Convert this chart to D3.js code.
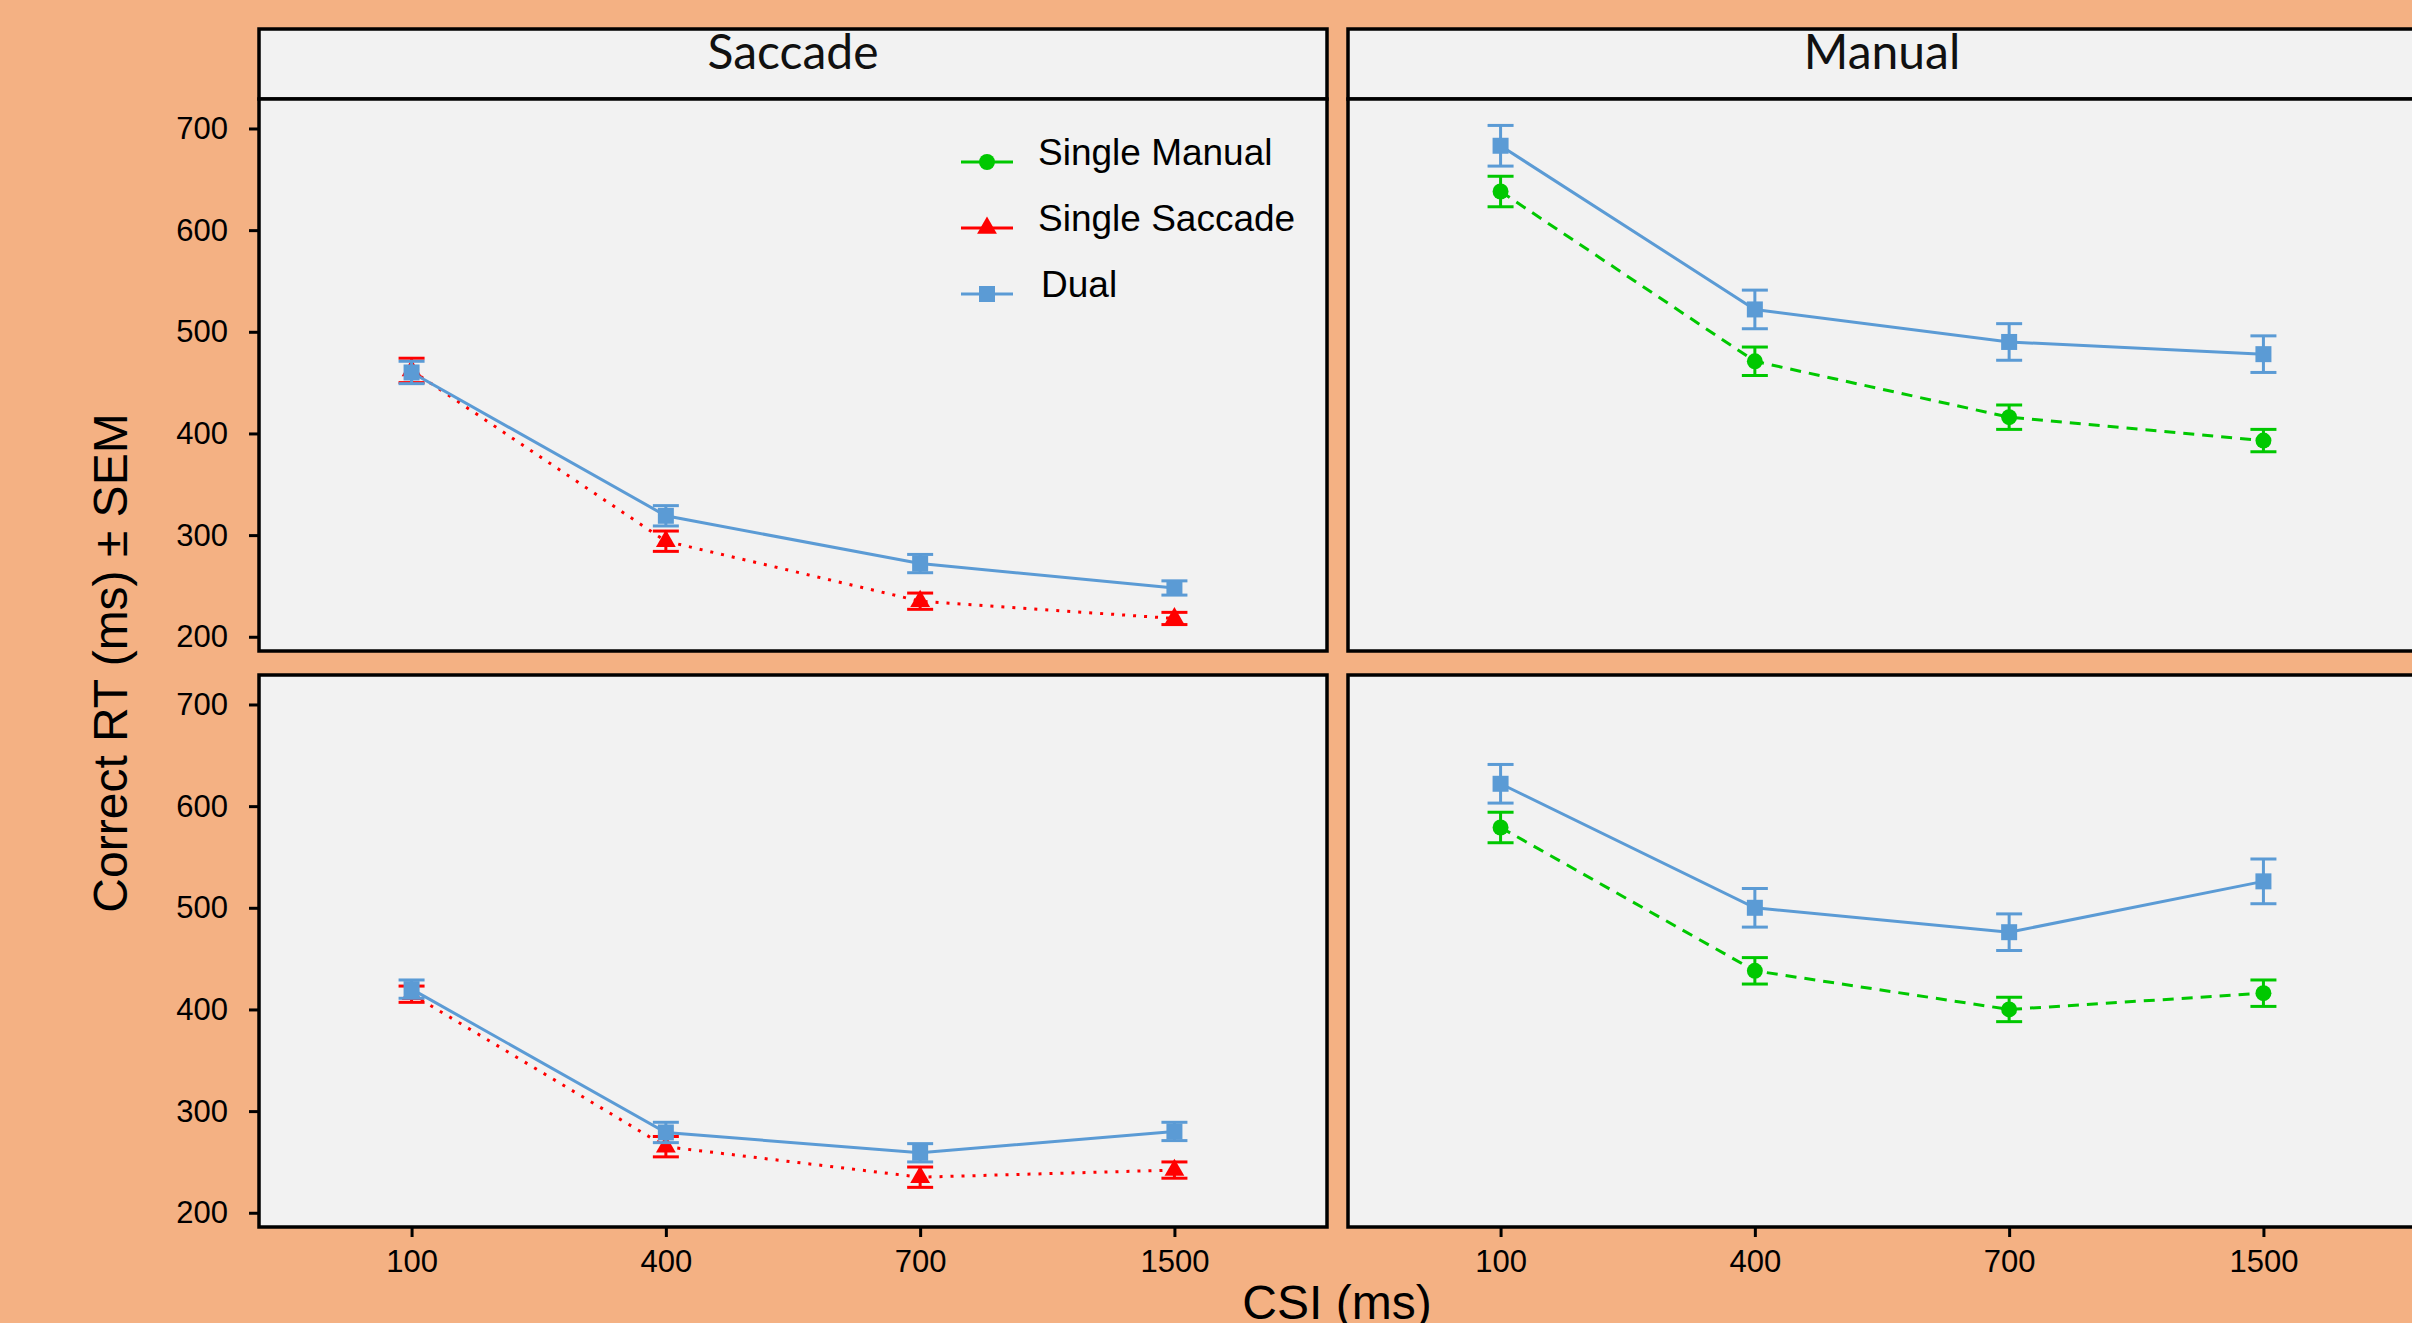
<!DOCTYPE html>
<html>
<head>
<meta charset="utf-8">
<script src="https://cdn.jsdelivr.net/npm/d3@7"></script>
<style>
  html, body { margin: 0; padding: 0; background: #F4B183; }
  svg { display: block; }
</style>
</head>
<body>
<svg id="chart" width="2412" height="1323"></svg>
<script>
// categories
var csi = ["100", "400", "700", "1500"];
var yTicks = [200, 300, 400, 500, 600, 700];
var columns = ["Saccade", "Manual"];
var seriesNames = ["Single Manual", "Single Saccade", "Dual"];

// values (ms), with SEM
var sacTopSingle = [462, 294, 235, 218];
var sacTopSingleSem = [12, 10, 8, 6];
var sacTopDual = [460, 319, 272, 248];
var sacTopDualSem = [11, 10, 9, 7];

var manTopSingle = [638, 471, 416, 393];
var manTopSingleSem = [15, 14, 12, 11];
var manTopDual = [683, 522, 490, 478];
var manTopDualSem = [20, 19, 18, 18];

var sacBotSingle = [415, 265, 235, 242];
var sacBotSingleSem = [8, 10, 10, 8];
var sacBotDual = [420, 279, 259, 280];
var sacBotDualSem = [9, 10, 9, 9];

var manBotSingle = [579, 438, 400, 416];
var manBotSingleSem = [15, 13, 12, 13];
var manBotDual = [622, 500, 476, 526];
var manBotDualSem = [19, 19, 18, 22];

var svg = d3.select("#chart"),
    colX = [259, 1348],
    panelW = 1068,
    rowY = [99, 675],
    panelH = 552,
    stripTop = 29;

var style = {
  "Single Manual":  {color: "#00C800", dash: "11,8", sym: d3.symbolCircle, size: 200},
  "Single Saccade": {color: "#FF0000", dash: "3,8", sym: d3.symbolTriangle, size: 170},
  "Dual":           {color: "#5B9BD5", dash: null, sym: d3.symbolSquare, size: 256}
};

function pts(vals, sem) {
  return vals.map(function(v, i) { return {csi: csi[i], v: v, se: sem[i]}; });
}

// panels[row][col]
var panels = [
  [
    [{name: "Single Saccade", d: pts(sacTopSingle, sacTopSingleSem)},
     {name: "Dual", d: pts(sacTopDual, sacTopDualSem)}],
    [{name: "Single Manual", d: pts(manTopSingle, manTopSingleSem)},
     {name: "Dual", d: pts(manTopDual, manTopDualSem)}]
  ],
  [
    [{name: "Single Saccade", d: pts(sacBotSingle, sacBotSingleSem)},
     {name: "Dual", d: pts(sacBotDual, sacBotDualSem)}],
    [{name: "Single Manual", d: pts(manBotSingle, manBotSingleSem)},
     {name: "Dual", d: pts(manBotDual, manBotDualSem)}]
  ]
];

var x = d3.scalePoint().domain(csi).range([0, panelW]).padding(0.6);
var y = d3.scaleLinear().domain([186, 729]).range([panelH, 0]);

var line = d3.line()
    .x(function(d) { return x(d.csi); })
    .y(function(d) { return y(d.v); });

var tickFont = "'Liberation Sans', Arial, sans-serif";

// strips
columns.forEach(function(c, ci) {
  var s = svg.append("g").attr("transform", "translate(" + colX[ci] + "," + stripTop + ")");
  s.append("rect")
      .attr("width", panelW).attr("height", rowY[0] - stripTop)
      .attr("fill", "#F2F2F2").attr("stroke", "#000").attr("stroke-width", 3.5);
  s.append("text")
      .attr("x", panelW / 2).attr("y", 40)
      .attr("text-anchor", "middle")
      .attr("font-family", "Lato, 'Open Sans', sans-serif")
      .attr("font-size", 48)
      .attr("fill", "#111")
      .text(c);
});

panels.forEach(function(row, ri) {
  row.forEach(function(series, ci) {
    var g = svg.append("g")
        .attr("transform", "translate(" + colX[ci] + "," + rowY[ri] + ")");

    g.append("rect")
        .attr("width", panelW).attr("height", panelH)
        .attr("fill", "#F2F2F2");

    series.forEach(function(s) {
      var st = style[s.name];
      g.append("path")
          .datum(s.d)
          .attr("fill", "none")
          .attr("stroke", st.color)
          .attr("stroke-width", 3)
          .attr("stroke-dasharray", st.dash)
          .attr("d", line);

      var eb = g.append("g").selectAll("g").data(s.d).enter().append("g")
          .attr("stroke", st.color).attr("stroke-width", 3);
      eb.append("line")
          .attr("x1", function(d) { return x(d.csi); })
          .attr("x2", function(d) { return x(d.csi); })
          .attr("y1", function(d) { return y(d.v - d.se); })
          .attr("y2", function(d) { return y(d.v + d.se); });
      [-1, 1].forEach(function(k) {
        eb.append("line")
            .attr("x1", function(d) { return x(d.csi) - 13; })
            .attr("x2", function(d) { return x(d.csi) + 13; })
            .attr("y1", function(d) { return y(d.v + k * d.se); })
            .attr("y2", function(d) { return y(d.v + k * d.se); });
      });

      g.append("g").selectAll("path").data(s.d).enter().append("path")
          .attr("transform", function(d) { return "translate(" + x(d.csi) + "," + y(d.v) + ")"; })
          .attr("fill", st.color)
          .attr("d", d3.symbol(st.sym, st.size));
    });

    g.append("rect")
        .attr("width", panelW).attr("height", panelH)
        .attr("fill", "none").attr("stroke", "#000").attr("stroke-width", 3.5);

    if (ci === 0) {
      var ya = g.append("g")
          .call(d3.axisLeft(y).tickValues(yTicks).tickSize(10).tickPadding(21));
      ya.select(".domain").remove();
      ya.selectAll("line").attr("stroke", "#000").attr("stroke-width", 3);
      ya.selectAll("text").attr("font-family", tickFont).attr("font-size", 31).attr("fill", "#000");
    }
    if (ri === 1) {
      var xa = g.append("g")
          .attr("transform", "translate(0," + panelH + ")")
          .call(d3.axisBottom(x).tickSize(10).tickPadding(13));
      xa.select(".domain").remove();
      xa.selectAll("line").attr("stroke", "#000").attr("stroke-width", 3);
      xa.selectAll("text").attr("font-family", tickFont).attr("font-size", 31).attr("fill", "#000");
    }

    // legend in first panel
    if (ri === 0 && ci === 0) {
      var lg = g.append("g").attr("transform", "translate(702,63)");
      seriesNames.forEach(function(n, i) {
        var st = style[n];
        var it = lg.append("g").attr("transform", "translate(0," + (i * 66) + ")");
        it.append("line").attr("x1", 0).attr("x2", 52)
            .attr("stroke", st.color).attr("stroke-width", 3);
        it.append("path").attr("transform", "translate(26,0)")
            .attr("fill", st.color).attr("d", d3.symbol(st.sym, st.size));
        it.append("text")
            .attr("x", n === "Dual" ? 80 : 77).attr("y", 3)
            .attr("font-family", tickFont).attr("font-size", 37)
            .attr("fill", "#000")
            .text(n);
      });
    }
  });
});

// axis titles
svg.append("text")
    .attr("x", 1337).attr("y", 1319)
    .attr("text-anchor", "middle")
    .attr("font-family", tickFont).attr("font-size", 48)
    .text("CSI (ms)");

svg.append("text")
    .attr("transform", "translate(127,663) rotate(-90)")
    .attr("text-anchor", "middle")
    .attr("font-family", tickFont).attr("font-size", 48)
    .text("Correct RT (ms) \u00b1 SEM");
</script>
</body>
</html>
